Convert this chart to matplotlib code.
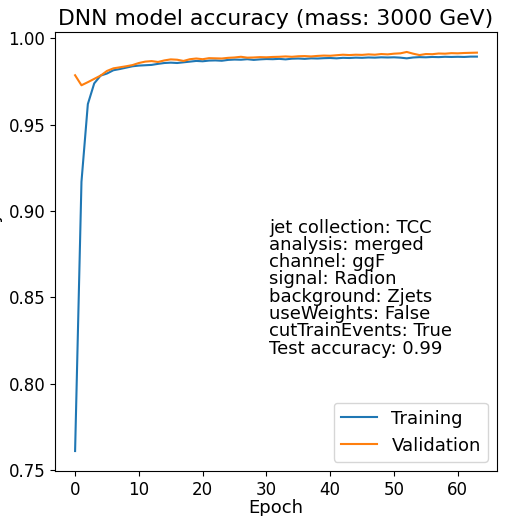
import matplotlib
matplotlib.use('Agg')
import matplotlib.pyplot as plt

# Accuracy per epoch
epochs = list(range(64))
train_acc = [0.761, 0.917, 0.962, 0.974, 0.9785, 0.9797, 0.9816, 0.9823, 0.9831, 0.9839,
             0.9843, 0.9845, 0.9847, 0.9853, 0.9858, 0.9860, 0.9858, 0.9862, 0.9866, 0.9870,
             0.9868, 0.9872, 0.9873, 0.9871, 0.9876, 0.9878, 0.9877, 0.9880, 0.9876, 0.9879,
             0.9881, 0.9880, 0.9882, 0.9879, 0.9883, 0.9884, 0.9882, 0.9885, 0.9884, 0.9886,
             0.9887, 0.9885, 0.9888, 0.9887, 0.9889, 0.9888, 0.9890, 0.9889, 0.9891, 0.9890,
             0.9891, 0.9889, 0.9885, 0.9890, 0.9892, 0.9891, 0.9893, 0.9892, 0.9894, 0.9893,
             0.9894, 0.9893, 0.9895, 0.9895]
val_acc = [0.9787, 0.9729, 0.9747, 0.9766, 0.9785, 0.9812, 0.9827, 0.9833, 0.9839, 0.9846,
           0.9858, 0.9866, 0.9869, 0.9864, 0.9873, 0.9879, 0.9877, 0.9870, 0.9880, 0.9884,
           0.9880, 0.9886, 0.9885, 0.9884, 0.9888, 0.9890, 0.9894, 0.9889, 0.9890, 0.9892,
           0.9891, 0.9893, 0.9894, 0.9896, 0.9894, 0.9897, 0.9898, 0.9896, 0.9899, 0.9901,
           0.9900, 0.9903, 0.9906, 0.9904, 0.9906, 0.9905, 0.9908, 0.9906, 0.9910, 0.9908,
           0.9912, 0.9914, 0.9922, 0.9912, 0.9904, 0.9910, 0.9909, 0.9913, 0.9912, 0.9915,
           0.9914, 0.9916, 0.9917, 0.9918]

info_lines = ['jet collection: TCC', 'analysis: merged', 'channel: ggF', 'signal: Radion',
              'background: Zjets', 'useWeights: False', 'cutTrainEvents: True',
              'Test accuracy: 0.99']

fig = plt.figure(figsize=(5.05, 5.16), dpi=100)
ax = fig.add_axes([55 / 505, 1 - 471 / 516, 442 / 505, 439 / 516])

ax.plot(epochs, train_acc, label='Training')
ax.plot(epochs, val_acc, label='Validation')

ax.set_title('DNN model accuracy (mass: 3000 GeV)', fontsize=15.75, pad=5)
ax.set_xlabel('Epoch', fontsize=13, labelpad=0)
ax.set_ylabel('Accuracy', fontsize=13)
ax.yaxis.set_label_coords(-0.118, 0.5)
ax.tick_params(labelsize=12)
ax.legend(loc='lower right', fontsize=13)

ax.text(0.485, 0.575, '\n'.join(info_lines), transform=ax.transAxes,
        fontsize=13, va='top', ha='left', linespacing=0.95)

fig.savefig('out.png', dpi=100)
